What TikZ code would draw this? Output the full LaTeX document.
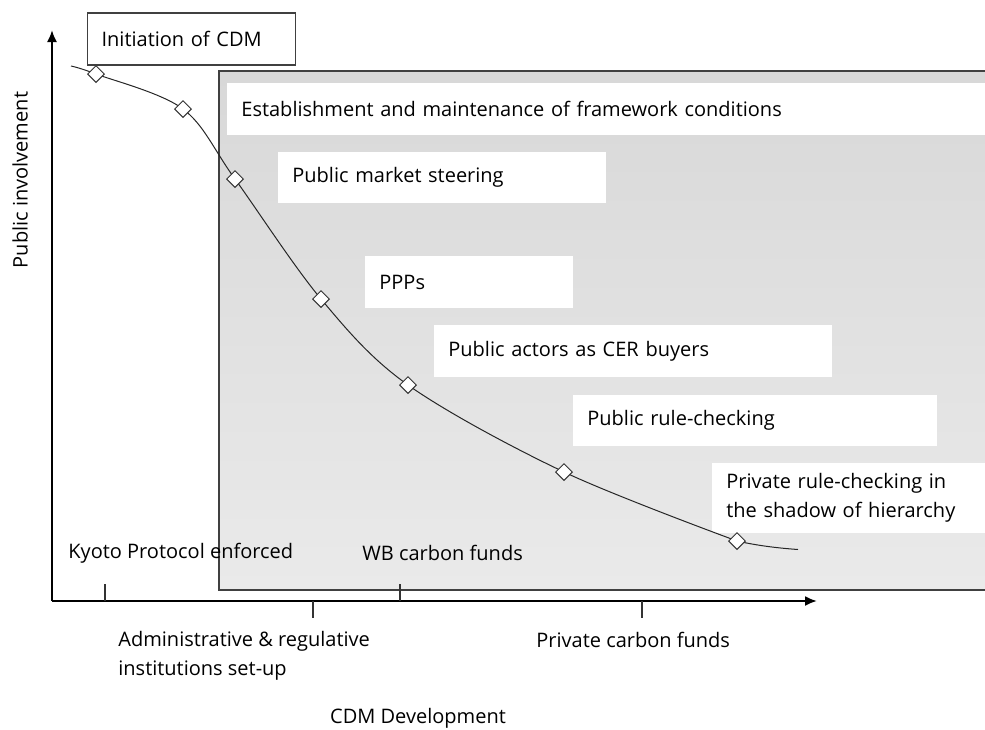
\documentclass[tikz,border=0pt]{standalone}
\usepackage{fontspec}
\setmainfont{Open Sans}
\usetikzlibrary{arrows.meta,shapes.geometric}

\tikzset{
  lbl/.style={font=\fontsize{10}{14.5}\selectfont, inner sep=0pt},
  phasebox/.style={lbl, fill=white, anchor=west, inner xsep=7pt, inner ysep=0pt,
    align=left, minimum height=26pt},
  stage/.style={diamond, draw=black!80, fill=white, line width=0.5pt,
    minimum width=8.5pt, minimum height=8.5pt, inner sep=0pt},
  axis/.style={line width=1pt, -{Latex[length=6pt,width=5pt]}},
  tick/.style={line width=0.6pt, black!80}
}

\begin{document}
\begin{tikzpicture}[x=0.5pt,y=0.5pt,yscale=-1,xscale=1]
			\useasboundingbox (0,0) rectangle (985,729);
			\clip (0,0) rectangle (985,729);

			%Shape: Rectangle [id:dp48213] 
			\draw[black!75, line width=0.6pt, top color={rgb,255:red,216;green,216;blue,216},
			  bottom color={rgb,255:red,234;green,234;blue,234}] (219,71) rectangle (1010,590) ;

			%Text boxes inside the shaded area
			\node[phasebox, text width=372pt] (est) at (227,109) {Establishment and maintenance of framework conditions};
			\node[phasebox, text width=150pt, minimum height=25.5pt] (pms) at (278,177.5) {Public market steering};
			\node[phasebox, text width=90pt] (ppp) at (365,282) {PPPs};
			\node[phasebox, text width=185pt] (cer) at (434,351) {Public actors as CER buyers};
			\node[phasebox, text width=168pt, minimum height=25.5pt] (prc) at (573,420.5) {Public rule-checking};
			\node[phasebox, text width=130pt, minimum height=35pt] (priv) at (712,498) {Private rule-checking in\\the shadow of hierarchy};

			%Shape: Rectangle [id:dp90317] 
			\node[phasebox, draw=black!75, line width=0.6pt, text width=90pt] (init) at (87,39) {Initiation of CDM};

			%Axes
			\coordinate (o) at (52,601);
			\coordinate (ytop) at (52,30);
			\coordinate (xend) at (817,601);
			\draw[axis] (o) -- (ytop) ;
			\draw[axis] (o) -- (xend) ;

			%Ticks
			\coordinate (kyt) at (105,601);
			\coordinate (adt) at (313,601);
			\coordinate (wbt) at (400,601);
			\coordinate (pct) at (642,601);
			\draw[tick] (kyt) -- ++(0,-17) ;
			\draw[tick] (adt) -- ++(0,17) ;
			\draw[tick] (wbt) -- ++(0,-17) ;
			\draw[tick] (pct) -- ++(0,17) ;

			%Curve of public involvement
			\coordinate (c0) at (71,66);
			\coordinate (c1) at (96,74);
			\coordinate (c2) at (183,109);
			\coordinate (c3) at (235,179);
			\coordinate (c4) at (321,299);
			\coordinate (c5) at (408,385);
			\coordinate (c6) at (564,472);
			\coordinate (c7) at (737,541);
			\coordinate (c8) at (798,549.5);
			\draw[line width=0.5pt, black!85] plot[smooth, tension=0.55] coordinates {(c0) (c1) (c2) (c3) (c4) (c5) (c6) (c7)} ;
			\draw[line width=0.5pt, black!85] (c7) .. controls (757,545.5) and (777,548) .. (c8) ;
			\foreach \i in {1,...,7}
			  \node[stage] (s\i) at (c\i) {};

			%Labels
			\node[lbl, anchor=west] (kyoto) at (68,553) {Kyoto Protocol enforced};
			\node[lbl, anchor=west] (wb) at (362,553) {WB carbon funds};
			\node[lbl, anchor=north west, align=left] (admin) at (118,631) {Administrative \& regulative\\institutions set-up};
			\node[lbl, anchor=west] (pcf) at (536,640) {Private carbon funds};
			\node[lbl] (xlab) at (418,718) {CDM Development};
			\node[lbl, rotate=90] (ylab) at (20,180) {Public involvement};

\end{tikzpicture}
\end{document}
